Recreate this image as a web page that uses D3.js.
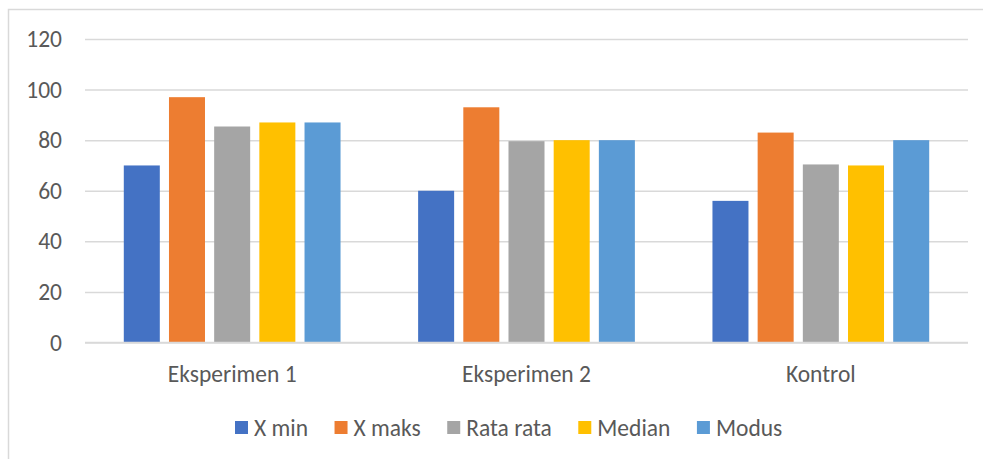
<!DOCTYPE html>
<html>
<head>
<meta charset="utf-8">
<script src="https://cdn.jsdelivr.net/npm/d3@7"></script>
<style>
  html, body { margin: 0; padding: 0; background: #fff; }
  svg { display: block; }
  text { font-family: Carlito, Calibri, Lato, "Open Sans", sans-serif; fill: #595959; }
</style>
</head>
<body>
<svg id="chart" width="983" height="459"></svg>
<script>
const categories = ["Eksperimen 1", "Eksperimen 2", "Kontrol"];
const seriesNames = ["X min", "X maks", "Rata rata", "Median", "Modus"];
const xMin = [70, 60, 56];
const xMaks = [97, 93, 83];
const rataRata = [85.4, 79.6, 70.4];
const median = [87, 80, 70];
const modus = [87, 80, 80];
const yTicks = [0, 20, 40, 60, 80, 100, 120];
const colors = ["#4472C4", "#ED7D31", "#A5A5A5", "#FFC000", "#5B9BD5"];

const seriesValues = [xMin, xMaks, rataRata, median, modus];
const FONT = 'Carlito, Calibri, Lato, "Open Sans", sans-serif';

const svg = d3.select("#chart");

// outer chart border (cropped on the right and bottom)
svg.append("rect")
  .attr("x", 8.5).attr("y", 9.5)
  .attr("width", 1100).attr("height", 600)
  .attr("fill", "none").attr("stroke", "#d9d9d9").attr("stroke-width", 1.5);

const plot = { left: 85, right: 968, top: 39, bottom: 342.5 };

const y = d3.scaleLinear().domain([0, 120]).range([plot.bottom, plot.top]);
const x0 = d3.scaleBand().domain(categories).range([plot.left, plot.right])
  .paddingInner(0.2636).paddingOuter(0.1318);
const x1 = d3.scaleBand().domain(seriesNames).range([0, x0.bandwidth()])
  .paddingInner(0.203).paddingOuter(0);

// gridlines + y labels
const yAxis = d3.axisLeft(y).tickValues(yTicks).tickSize(-(plot.right - plot.left)).tickPadding(23);
const gy = svg.append("g").attr("transform", `translate(${plot.left},0)`).call(yAxis);
gy.select(".domain").remove();
gy.selectAll(".tick line").attr("stroke", "#d9d9d9").attr("stroke-width", 1.5);
gy.selectAll(".tick text").attr("font-size", 23.5).attr("fill", "#595959").style("font-family", FONT);

// bars
const groups = svg.append("g").selectAll("g").data(categories).join("g")
  .attr("transform", d => `translate(${x0(d)},0)`);
groups.selectAll("rect")
  .data((c, ci) => seriesNames.map((s, si) => ({ s, si, v: seriesValues[si][ci] })))
  .join("rect")
  .attr("x", d => x1(d.s))
  .attr("width", x1.bandwidth())
  .attr("y", d => y(d.v))
  .attr("height", d => y(0) - y(d.v))
  .attr("fill", d => colors[d.si]);

// x axis line
svg.append("line")
  .attr("x1", plot.left).attr("x2", plot.right)
  .attr("y1", y(0)).attr("y2", y(0))
  .attr("stroke", "#d9d9d9").attr("stroke-width", 1.5);

// x axis labels
const xAxis = d3.axisBottom(x0).tickSize(0).tickPadding(0);
const gx = svg.append("g").attr("transform", `translate(0,${plot.bottom})`).call(xAxis);
gx.select(".domain").remove();
gx.selectAll(".tick text").attr("font-size", 23.5).attr("fill", "#595959")
  .attr("dy", null).attr("y", 39).style("font-family", FONT);

// legend
const legend = svg.append("g");
let lx = 235;
seriesNames.forEach((name, i) => {
  const g = legend.append("g");
  g.append("rect").attr("x", lx).attr("y", 421).attr("width", 13).attr("height", 13).attr("fill", colors[i]);
  const t = g.append("text").attr("x", lx + 19).attr("y", 436).attr("font-size", 23.5).text(name);
  const w = t.node().getComputedTextLength();
  lx = lx + 19 + w + 26.5;
});
</script>
</body>
</html>
